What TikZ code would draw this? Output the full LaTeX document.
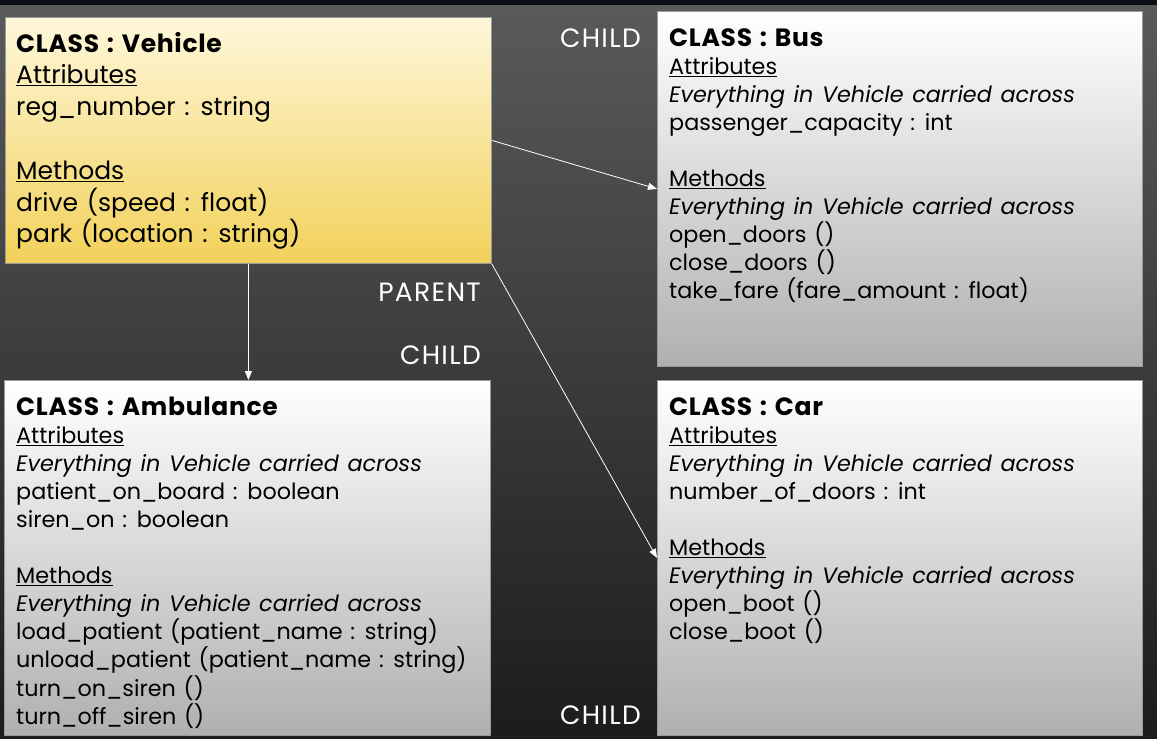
\documentclass[tikz,border=0pt]{standalone}
\usepackage{fontspec}
\setmainfont{Poppins}[WordSpace=1.3, BoldFeatures={LetterSpace=2.8}]
\newfontfamily\lblfont{Poppins}[LetterSpace=5]
\usetikzlibrary{arrows.meta}
\definecolor{bgtop}{HTML}{5A5A5A}
\definecolor{bgbot}{HTML}{1C1C1C}
\definecolor{strip}{HTML}{0B0F15}
\definecolor{vtop}{HTML}{FEF7DA}
\definecolor{vbot}{HTML}{F2D15A}
\definecolor{gtop}{HTML}{FFFFFF}
\definecolor{gbot}{HTML}{B0B0B0}
\definecolor{edge}{HTML}{9A9A9A}
\newcommand{\ctitle}[1]{{\fontsize{25}{25}\selectfont\textbf{#1}}}
\begin{document}
\begin{tikzpicture}[x=1pt,y=-1pt,
  classbox/.style={draw=edge, line width=0.8pt, anchor=north west, inner sep=0pt},
  goldbox/.style={classbox, top color=vtop, bottom color=vbot},
  greybox/.style={classbox, top color=gtop, bottom color=gbot},
  bigtxt/.style={anchor=base west, inner sep=0pt, font=\fontsize{25}{31.8}\selectfont},
  smalltxt/.style={anchor=base west, inner sep=0pt, font=\fontsize{22.3}{28.1}\selectfont},
  lbl/.style={anchor=base east, inner sep=0pt, text=white, font=\lblfont\fontsize{26.5}{30}\selectfont},
  conn/.style={draw=white, line width=0.8pt, -{Triangle[length=9pt,width=7pt]}}]
\useasboundingbox (0,0) rectangle (1157,739);
\shade[top color=bgtop, bottom color=bgbot] (0,5) rectangle (1157,739);
\fill[strip] (0,0) rectangle (1157,5);

\node[goldbox, minimum width=486pt, minimum height=246pt] (vehicle) at (5,17) {};
\node[greybox, minimum width=485pt, minimum height=355pt] (bus) at (657,11) {};
\node[greybox, minimum width=486pt, minimum height=355pt] (amb) at (4,380) {};
\node[greybox, minimum width=485pt, minimum height=355pt] (car) at (657,380) {};

\node[bigtxt] (vehicleT) at (16,52) {\parbox[t]{470pt}{\raggedright
\ctitle{CLASS : Vehicle}\\
\underline{Attributes}\\
reg\_number : string\\[\baselineskip]
\underline{Methods}\\
drive (speed : float)\\
park (location : string)}};

\node[smalltxt] (busT) at (669,46) {\parbox[t]{470pt}{\raggedright
\ctitle{CLASS : Bus}\\
\underline{Attributes}\\
\textit{Everything in Vehicle carried across}\\
passenger\_capacity : int\\[\baselineskip]
\underline{Methods}\\
\textit{Everything in Vehicle carried across}\\
open\_doors ()\\
close\_doors ()\\
take\_fare (fare\_amount : float)}};

\node[smalltxt] (ambT) at (16,415) {\parbox[t]{470pt}{\raggedright
\ctitle{CLASS : Ambulance}\\
\underline{Attributes}\\
\textit{Everything in Vehicle carried across}\\
patient\_on\_board : boolean\\
siren\_on : boolean\\[\baselineskip]
\underline{Methods}\\
\textit{Everything in Vehicle carried across}\\
load\_patient (patient\_name : string)\\
unload\_patient (patient\_name : string)\\
turn\_on\_siren ()\\
turn\_off\_siren ()}};

\node[smalltxt] (carT) at (669,415) {\parbox[t]{470pt}{\raggedright
\ctitle{CLASS : Car}\\
\underline{Attributes}\\
\textit{Everything in Vehicle carried across}\\
number\_of\_doors : int\\[\baselineskip]
\underline{Methods}\\
\textit{Everything in Vehicle carried across}\\
open\_boot ()\\
close\_boot ()}};

\node[lbl] (childBus) at (641,47) {CHILD};
\node[lbl] (parent) at (481,301) {PARENT};
\node[lbl] (childAmb) at (481,364) {CHILD};
\node[lbl] (childCar) at (641,724) {CHILD};

\draw[conn] (vehicle.east) -- (bus.west);
\draw[conn] (vehicle.south) -- (vehicle.south |- amb.north);
\draw[conn] (vehicle.south east) -- (car.west);
\end{tikzpicture}
\end{document}
